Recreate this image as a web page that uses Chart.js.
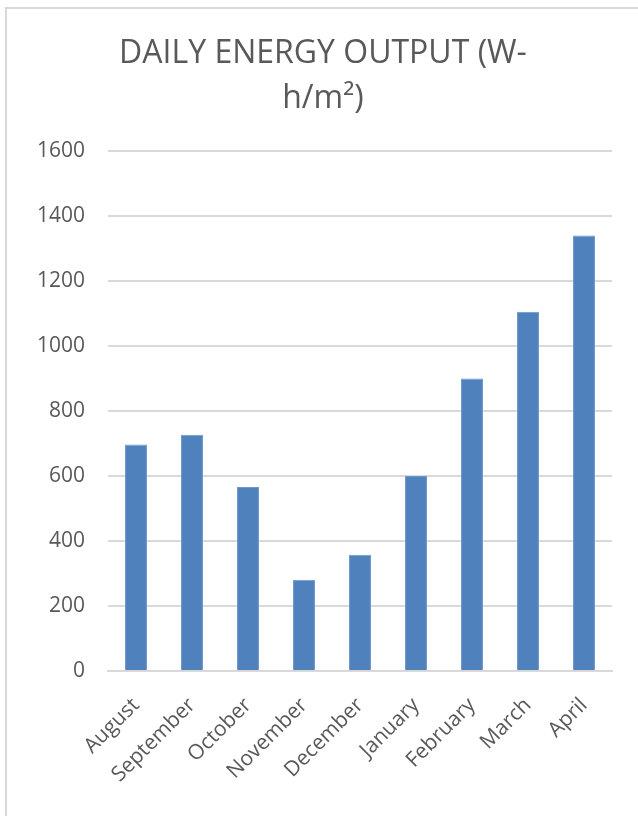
<!DOCTYPE html>
<html><head><meta charset="utf-8">
<script src="https://cdn.jsdelivr.net/npm/chart.js@4.4.1/dist/chart.umd.min.js"></script>
<style>
html,body{margin:0;padding:0;background:#fff;overflow:hidden;width:638px;height:816px;}
#frame{position:absolute;left:5px;top:7px;width:700px;height:900px;border-left:2px solid #d9d9d9;border-top:2px solid #d9d9d9;box-sizing:border-box;}
#wrap{position:absolute;left:0;top:0;width:646px;height:816px;}
</style></head><body>
<div id="frame"></div>
<div id="wrap"><canvas id="c"></canvas></div>
<script>
const months = ['August','September','October','November','December','January','February','March','April'];
const outputs = [697, 727, 566, 281, 358, 600, 900, 1105, 1340];
const titleLines = ['DAILY ENERGY OUTPUT (W-', 'h/m\u00B2)'];
const yMin = 0, yMax = 1600, yStep = 200;

const grey = '#595959';
new Chart(document.getElementById('c'), {
  type: 'bar',
  data: {
    labels: months,
    datasets: [{
      data: outputs,
      backgroundColor: '#4F81BD',
      borderColor: '#6F97CB',
      borderWidth: 1,
      barPercentage: 0.8,
      categoryPercentage: 0.49
    }]
  },
  options: {
    responsive: true,
    maintainAspectRatio: false,
    animation: false,
    layout: { padding: { left: 0, right: 0, top: 0, bottom: 0 } },
    plugins: {
      legend: { display: false },
      tooltip: { enabled: false },
      title: {
        display: true,
        text: titleLines,
        color: grey,
        font: { family: 'Open Sans', size: 32, weight: 'normal', lineHeight: 1.406 },
        padding: { top: 31, bottom: 30 }
      }
    },
    scales: {
      x: {
        grid: { display: false, drawTicks: false },
        border: { display: true, color: '#d9d9d9', width: 2 },
        ticks: { color: grey, font: { family: 'Open Sans', size: 21 }, maxRotation: 45, minRotation: 45, padding: 22, autoSkip: false },
        afterFit: (s) => { s.height = 145; }
      },
      y: {
        min: yMin, max: yMax,
        grid: { color: '#d9d9d9', lineWidth: 2, drawTicks: false },
        border: { display: false },
        ticks: { stepSize: yStep, color: grey, font: { family: 'Open Sans', size: 21 }, padding: 23,
                 callback: (v) => String(v) },
        afterFit: (s) => { s.width = 108; }
      },
      yRight: {
        position: 'right',
        min: yMin, max: yMax,
        grid: { display: false, drawTicks: false },
        border: { display: false },
        ticks: { display: false },
        afterFit: (s) => { s.width = 34; }
      }
    }
  }
});
</script>
</body></html>
